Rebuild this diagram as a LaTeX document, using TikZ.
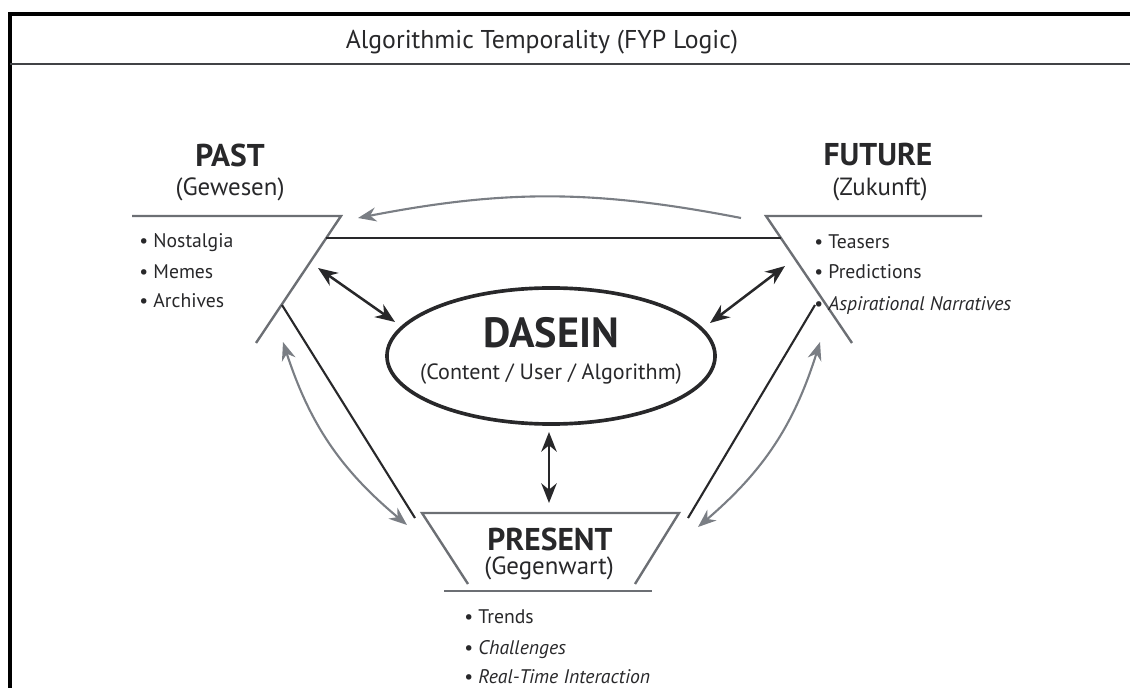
\documentclass[tikz,border=0pt]{standalone}
\usepackage{fontspec}
\setmainfont{PT Sans}
\definecolor{inkdark}{RGB}{40, 40, 42}
\definecolor{inkgray}{RGB}{108, 111, 116}
\definecolor{arrowgray}{RGB}{122, 126, 132}
\usetikzlibrary{arrows.meta, shapes.geometric}
\tikzset{
	head/.style={font=\fontsize{22.4pt}{26pt}\selectfont\bfseries, text=inkdark, inner sep=0pt},
	subhead/.style={font=\fontsize{17.7pt}{21pt}\selectfont, text=inkdark, inner sep=0pt},
	item/.style={font=\fontsize{14pt}{17pt}\selectfont, text=inkdark, inner sep=0pt, anchor=base west},
	core/.style={ellipse, draw=inkdark, line width=2.6pt, minimum width=8.2cm, minimum height=3.4cm, inner sep=0pt},
	corehead/.style={font=\fontsize{30pt}{34pt}\selectfont\bfseries, text=inkdark, inner sep=0pt},
	coresub/.style={font=\fontsize{15.7pt}{19pt}\selectfont, text=inkdark, inner sep=0pt},
	shelf/.style={line width=1.7pt, draw=inkgray, line join=miter},
	link/.style={line width=1.5pt, draw=inkdark},
	darrow/.style={{Stealth[length=14pt,width=11pt]}-{Stealth[length=14pt,width=11pt]}, line width=1.8pt, draw=inkdark},
	garrow/.style={{Stealth[length=13pt,width=10pt]}-{Stealth[length=13pt,width=10pt]}, line width=1.5pt, draw=arrowgray},
	onearrow/.style={-{Stealth[length=13pt,width=10pt]}, line width=1.5pt, draw=arrowgray},
}

\begin{document}
\begin{tikzpicture}[x=0.025cm, y=-0.025cm]
	\useasboundingbox (0,0) rectangle (1130,688);
	% frame and title
	\draw[line width=2.6pt, black] (10,688) -- (10,14) -- (1130,14);
	\draw[line width=2pt, inkgray!60!black] (10,64) -- (1130,64);
	\node[font=\fontsize{18.3pt}{22pt}\selectfont, text=inkdark] (title) at (542,42) {Algorithmic Temporality (FYP Logic)};

	% centre
	\node[core] (dasein) at (551,356) {};
	\node[corehead] (daseinname) at (551,333) {DASEIN};
	\node[coresub] (daseinsub) at (551,374) {(Content / User / Algorithm)};

	% past
	\node[head] (past) at (230,155) {PAST};
	\node[subhead] (pastsub) at (230,189) {(Gewesen)};
	\draw[shelf] (132,216) -- (341,216) -- (256,343);
	\node[item] (nost) at (139,248) {\textbullet\ Nostalgia};
	\node[item] (meme) at (139,279) {\textbullet\ Memes};
	\node[item] (arch) at (139,308) {\textbullet\ Archives};

	% future
	\node[head] (fut) at (878,155) {FUTURE};
	\node[subhead] (futsub) at (880,189) {(Zukunft)};
	\draw[shelf] (982,216) -- (766,216) -- (852,343);
	\node[item] (teas) at (814,249) {\textbullet\ Teasers};
	\node[item] (pred) at (814,279) {\textbullet\ Predictions};
	\node[item] (asp) at (814,311) {\textbullet\ \textit{Aspirational Narratives}};

	% present
	\node[head] (pres) at (550,539) {PRESENT};
	\node[subhead] (pressub) at (549,568) {(Gegenwart)};
	\draw[shelf] (468,584) -- (422,513) -- (679,513) -- (635,584);
	\draw[shelf] (444,591) -- (652,591);
	\node[item] (trend) at (464,623) {\textbullet\ Trends};
	\node[item] (chal) at (464,654) {\textbullet\ \textit{Challenges}};
	\node[item] (real) at (464,683) {\textbullet\ \textit{Real-Time Interaction}};

	% connector ends
	\coordinate (pastA) at (326,238);
	\coordinate (futA) at (781,238);
	\coordinate (pastB) at (282,305);
	\coordinate (futB) at (815,305);
	\coordinate (presL) at (415,518);
	\coordinate (presR) at (688,518);
	\coordinate (pastD) at (318,268);
	\coordinate (coreL) at (395,322);
	\coordinate (futD) at (785,266);
	\coordinate (coreR) at (710,323);
	\coordinate (coreB) at (549,432);
	\coordinate (presT) at (549,503);

	\draw[link] (pastA) -- (futA);
	\draw[link] (pastB) -- (presL);
	\draw[link] (futB) -- (presR);
	\draw[darrow] (pastD) -- (coreL);
	\draw[darrow] (futD) -- (coreR);
	\draw[darrow] (coreB) -- (presT);

	\draw[garrow] (283,342) to[bend right=16] (407,525);
	\draw[garrow] (820,342) to[bend left=16] (698,527);
	\draw[onearrow] (741,218) to[bend right=11] (358,218);
\end{tikzpicture}
\end{document}
